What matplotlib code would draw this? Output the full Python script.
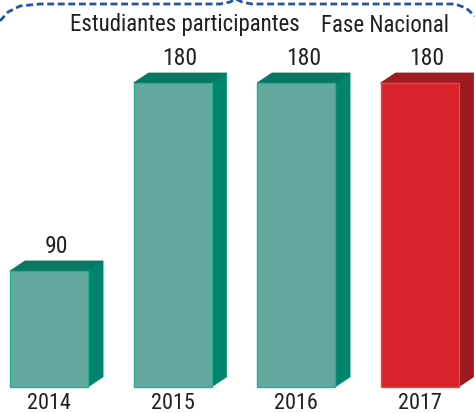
import matplotlib
matplotlib.use("Agg")
import numpy as np
import matplotlib.pyplot as plt
from matplotlib.patches import Polygon

# data
years = ["2014", "2015", "2016", "2017"]
students = [90, 180, 180, 180]
title_left = "Estudiantes participantes"
title_right = "Fase Nacional"

# colours: front / side / top / edge
teal = ("#64a89e", "#00846d", "#077862", "#22b093")
red = ("#d9232b", "#9c1a1f", "#a01b20", "#e0464c")
bar_colours = [teal, teal, teal, red]

font = ["Liberation Sans Narrow", "Roboto Condensed", "Lato", "DejaVu Sans"]
txt_col = "#231f20"

fig = plt.figure(figsize=(4.75, 4.14), dpi=100)
ax = fig.add_axes([0, 0, 1, 1])
x_lo, x_hi = -0.397, 3.449
y_lo, y_hi = 22.0, 220.2
ax.set_xlim(x_lo, x_hi)
ax.set_ylim(y_lo, y_hi)   # truncated axis, like the original drawing
ax.axis("off")

baseline = 34.5
width = 0.632
x = np.arange(len(years))

# depth of the fake 3D block, in data units (~15px right, ~10px up)
px_x = 475 / (x_hi - x_lo)
px_y = 414 / (y_hi - y_lo)
dx = 15 / px_x
dy = 10 / px_y

for xi, val, (front, side, top, edge) in zip(x, students, bar_colours):
    xl, xr = xi - width / 2, xi + width / 2
    ax.add_patch(Polygon([(xr, baseline), (xr, val), (xr + dx, val + dy),
                          (xr + dx, baseline + dy)], closed=True,
                         facecolor=side, edgecolor=side, lw=0.5))
    ax.add_patch(Polygon([(xl, val), (xl + dx, val + dy), (xr + dx, val + dy),
                          (xr, val)], closed=True,
                         facecolor=top, edgecolor=top, lw=0.5))
    ax.bar(xi, val - baseline, bottom=baseline, width=width,
           color=front, edgecolor=edge, linewidth=1.0)
    ax.annotate(str(val), (xi + dx / 2, val + dy), xytext=(0, 3),
                textcoords="offset points", ha="center", va="bottom",
                fontsize=17, color=txt_col, family=font)
    ax.annotate(years[xi], (xi, baseline), xytext=(0, -4),
                textcoords="offset points", ha="center", va="top",
                fontsize=16, color=txt_col, family=font)

# header text
ax.text(185 / 475, 1 - 25 / 414, title_left, transform=ax.transAxes,
        ha="center", va="center", fontsize=16.5, color=txt_col, family=font)
ax.text(385 / 475, 1 - 26 / 414, title_right, transform=ax.transAxes,
        ha="center", va="center", fontsize=16.5, color=txt_col, family=font)

# dotted brace along the top
bx = np.array([0, 8, 20, 40, 220, 230, 236, 242, 252, 455, 466, 475]) / 475
by = 1 - np.array([22, 13, 7, 5, 5, 3, 0, 3, 5, 5, 9, 17]) / 414
ax.plot(bx, by, transform=ax.transAxes, color="#2456a6", lw=2.0,
        ls=(0, (2.5, 1.3)), clip_on=False)

fig.savefig("out.png", dpi=100)
